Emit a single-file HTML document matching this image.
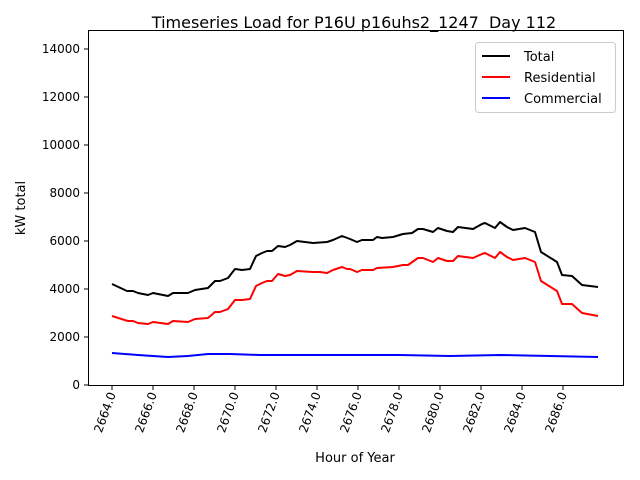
<!DOCTYPE html>
<html><head><style>body{margin:0;background:#fff}svg{display:block}</style></head><body>
<svg width="640" height="480" xmlns="http://www.w3.org/2000/svg" font-family="DejaVu Sans, Liberation Sans, sans-serif">
<rect width="640" height="480" fill="#fff"/>
<text x="354" y="28" font-size="16" text-anchor="middle" xml:space="preserve" style="white-space:pre">Timeseries Load for P16U p16uhs2_1247  Day 112</text>
<g stroke="#000" stroke-width="1">
<rect x="88.5" y="30.5" width="535" height="355" fill="none"/>
<line x1="84" y1="385" x2="88" y2="385"/><line x1="84" y1="337" x2="88" y2="337"/><line x1="84" y1="289" x2="88" y2="289"/><line x1="84" y1="241" x2="88" y2="241"/><line x1="84" y1="193" x2="88" y2="193"/><line x1="84" y1="145" x2="88" y2="145"/><line x1="84" y1="97" x2="88" y2="97"/><line x1="84" y1="49" x2="88" y2="49"/>
<line x1="112" y1="386" x2="112" y2="390"/><line x1="153" y1="386" x2="153" y2="390"/><line x1="194" y1="386" x2="194" y2="390"/><line x1="235" y1="386" x2="235" y2="390"/><line x1="276" y1="386" x2="276" y2="390"/><line x1="317" y1="386" x2="317" y2="390"/><line x1="358" y1="386" x2="358" y2="390"/><line x1="399" y1="386" x2="399" y2="390"/><line x1="440" y1="386" x2="440" y2="390"/><line x1="481" y1="386" x2="481" y2="390"/><line x1="522" y1="386" x2="522" y2="390"/><line x1="563" y1="386" x2="563" y2="390"/>
</g>
<g font-size="12" text-anchor="end">
<text x="80" y="389">0</text><text x="80" y="341">2000</text><text x="80" y="293">4000</text><text x="80" y="245">6000</text><text x="80" y="197">8000</text><text x="80" y="149">10000</text><text x="80" y="101">12000</text><text x="80" y="53">14000</text>
</g>
<g font-size="12" text-anchor="end">
<text transform="translate(116,394) rotate(-70)">2664.0</text>
<text transform="translate(157,394) rotate(-70)">2666.0</text>
<text transform="translate(198,394) rotate(-70)">2668.0</text>
<text transform="translate(239,394) rotate(-70)">2670.0</text>
<text transform="translate(280,394) rotate(-70)">2672.0</text>
<text transform="translate(321,394) rotate(-70)">2674.0</text>
<text transform="translate(362,394) rotate(-70)">2676.0</text>
<text transform="translate(403,394) rotate(-70)">2678.0</text>
<text transform="translate(444,394) rotate(-70)">2680.0</text>
<text transform="translate(485,394) rotate(-70)">2682.0</text>
<text transform="translate(526,394) rotate(-70)">2684.0</text>
<text transform="translate(567,394) rotate(-70)">2686.0</text>
</g>
<text x="355" y="462" font-size="13" text-anchor="middle">Hour of Year</text>
<text transform="translate(25,208) rotate(-90)" font-size="13" text-anchor="middle">kW total</text>
<g fill="none" stroke-width="2" stroke-linejoin="round">
<polyline stroke="#000" points="112,284 127,291 133,291 138,293 148,295 153,293 168,296 173,293 188,293 195,290 208,288 215,281 220,281 228,278 235,269 242,270 250,269 256,256 262,253 267,251 272,251 278,246 285,247 290,245 297,241 305,242 313,243 327,242 333,240 342,236 350,239 357,242 362,240 373,240 377,237 382,238 393,237 403,234 412,233 418,229 423,229 433,232 438,228 447,231 453,232 458,227 473,229 482,224 485,223 495,228 500,222 507,227 513,230 525,228 535,232 541,252 557,262 562,275 572,276 582,285 598,287"/>
<polyline stroke="#f00" points="112,316 128,321 133,321 138,323 148,324 153,322 168,324 173,321 188,322 195,319 208,318 215,312 220,312 228,309 235,300 242,300 250,299 256,286 262,283 267,281 272,281 278,274 285,276 290,275 297,271 313,272 320,272 327,273 333,270 342,267 347,269 350,269 357,272 362,270 373,270 377,268 393,267 403,265 408,265 418,258 423,258 433,262 438,258 447,261 453,261 458,256 473,258 482,254 485,253 495,258 500,252 507,257 513,260 525,258 535,262 541,281 557,291 562,304 572,304 582,313 598,316"/>
<polyline stroke="#00f" points="112,353 138,355 168,357 188,356 208,354 230,354 260,355 300,355 350,355 400,355 450,356 500,355 550,356 598,357"/>
</g>
<rect x="475.5" y="42.5" width="140" height="70" rx="3" fill="#fff" stroke="#ccc"/>
<g stroke-width="2"><line x1="482" y1="56" x2="510" y2="56" stroke="#000"/><line x1="482" y1="77" x2="510" y2="77" stroke="#f00"/><line x1="482" y1="98" x2="510" y2="98" stroke="#00f"/></g>
<g font-size="13"><text x="524" y="61">Total</text><text x="524" y="82">Residential</text><text x="524" y="103">Commercial</text></g>
</svg>
</body></html>
